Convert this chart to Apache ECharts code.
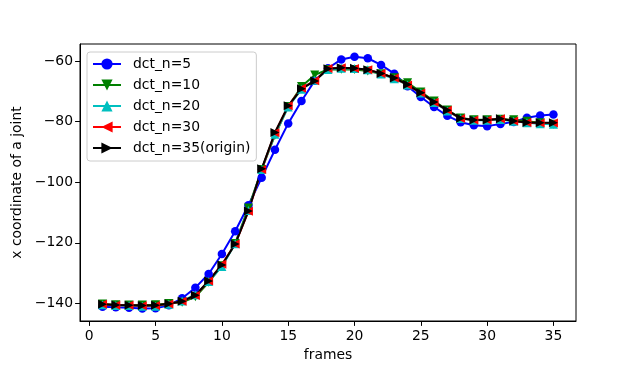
<!DOCTYPE html>
<html>
<head>
<meta charset="utf-8">
<script src="https://cdn.jsdelivr.net/npm/echarts@6/dist/echarts.min.js"></script>
<style>html,body{margin:0;padding:0;background:#fff;}#c{width:640px;height:367px;}</style>
</head>
<body>
<div id="c"></div>
<script>
const frames = [1,2,3,4,5,6,7,8,9,10,11,12,13,14,15,16,17,18,19,20,21,22,23,24,25,26,27,28,29,30,31,32,33,34,35];
const dct5  = [-141.1,-141.3,-141.4,-141.7,-141.6,-140.6,-138.3,-134.8,-130.3,-123.7,-116.2,-107.6,-98.5,-89.3,-80.6,-73.2,-66.5,-62.4,-59.5,-58.6,-59.1,-61.3,-64.2,-68.3,-71.9,-75.2,-78.1,-80.2,-81.2,-81.5,-80.8,-80.1,-78.7,-78.0,-77.7];
const dct10 = [-140.2,-140.4,-140.5,-140.5,-140.4,-140.0,-139.6,-137.8,-133.0,-127.6,-120.2,-108.5,-95.8,-84.5,-75.0,-68.4,-64.6,-62.8,-62.7,-62.8,-63.3,-64.2,-65.5,-67.2,-70.2,-73.2,-76.2,-78.8,-79.4,-79.4,-79.2,-79.4,-79.9,-80.4,-80.9];
const dct20 = [-140.4,-140.7,-140.7,-140.9,-140.9,-140.3,-139.2,-137.1,-132.8,-127.8,-120.3,-109.3,-95.8,-84.2,-75.2,-69.3,-66.4,-62.8,-62.4,-62.5,-62.9,-64.3,-65.9,-67.9,-70.6,-73.7,-76.5,-79.0,-79.6,-79.6,-79.3,-79.9,-80.4,-80.7,-80.9];
const dct30 = [-140.3,-140.6,-140.6,-140.8,-140.7,-140.2,-139.3,-137.4,-132.6,-127.1,-120.4,-109.6,-95.8,-83.7,-74.8,-69.0,-66.5,-62.5,-62.2,-62.5,-62.9,-64.1,-65.6,-67.9,-70.6,-73.6,-76.3,-79.0,-79.5,-79.5,-79.1,-79.8,-80.3,-80.5,-80.5];
const dct35 = [-140.3,-140.5,-140.6,-140.7,-140.6,-140.1,-139.3,-137.3,-132.6,-127.3,-120.4,-109.5,-95.6,-83.6,-74.8,-69.2,-66.6,-62.6,-62.2,-62.4,-62.9,-64.1,-65.6,-67.8,-70.5,-73.5,-76.3,-78.9,-79.5,-79.5,-79.1,-79.8,-80.3,-80.4,-80.4];
const xTicks = [0,5,10,15,20,25,30,35];
const yTicks = [-140,-120,-100,-80,-60];
const seriesNames = ['dct_n=5','dct_n=10','dct_n=20','dct_n=30','dct_n=35(origin)'];

const FONT = 'DejaVu Sans';
const pairs = v => frames.map((f,i)=>[f, v[i]]);
const defs = [
  {name: seriesNames[0], data: dct5,  color:'#0000ff', symbol:'circle',   rot:0,   size:8.5},
  {name: seriesNames[1], data: dct10, color:'#008000', symbol:'triangle', rot:180, size:9},
  {name: seriesNames[2], data: dct20, color:'#00bfbf', symbol:'triangle', rot:0,   size:9},
  {name: seriesNames[3], data: dct30, color:'#ff0000', symbol:'triangle', rot:90,  size:9},
  {name: seriesNames[4], data: dct35, color:'#000000', symbol:'triangle', rot:-90, size:9}
];
const chart = echarts.init(document.getElementById('c'), null, {renderer:'canvas'});
chart.setOption({
  animation:false,
  backgroundColor:'#fff',
  grid:{left:80, right:64, top:44, bottom:41, show:true, borderColor:'#000', borderWidth:1, backgroundColor:'transparent'},
  legend:{
    orient:'vertical', left:87, top:52,
    padding:[5,6,6,5], itemWidth:28, itemHeight:14, itemGap:7,
    backgroundColor:'rgba(255,255,255,0.8)', borderColor:'#cccccc', borderWidth:1, borderRadius:3,
    textStyle:{fontFamily:FONT, fontSize:13.9, color:'#000', padding:[0,0,0,7]},
    data: seriesNames
  },
  xAxis:{
    type:'value', min:-0.7, max:36.7,
    name:'frames', nameLocation:'middle', nameGap:27,
    nameTextStyle:{fontFamily:FONT, fontSize:13.9, color:'#000'},
    axisLine:{show:true, onZero:false, lineStyle:{color:'#000', width:1}},
    axisTick:{show:true, inside:false, length:4.9, lineStyle:{color:'#000', width:1}, customValues:xTicks},
    axisLabel:{fontFamily:FONT, fontSize:13.9, color:'#000', margin:8, customValues:xTicks, formatter:v=>String(v).replace('-','\u2212')},
    splitLine:{show:false}
  },
  yAxis:{
    type:'value', min:-145.8, max:-54.4,
    name:'x coordinate of a joint', nameLocation:'middle', nameGap:50, nameRotate:90,
    nameTextStyle:{fontFamily:FONT, fontSize:13.9, color:'#000'},
    axisLine:{show:true, onZero:false, lineStyle:{color:'#000', width:1}},
    axisTick:{show:true, inside:false, length:4.9, lineStyle:{color:'#000', width:1}, customValues:yTicks},
    axisLabel:{fontFamily:FONT, fontSize:13.9, color:'#000', margin:7, customValues:yTicks, formatter:v=>String(v).replace('-','\u2212')},
    splitLine:{show:false}
  },
  series: defs.map(d=>({
    name:d.name, type:'line', data:pairs(d.data),
    symbol:d.symbol, symbolSize:d.size, symbolRotate:d.rot, showSymbol:true,
    lineStyle:{color:d.color, width:2}, itemStyle:{color:d.color, borderWidth:0},
    emphasis:{disabled:true}
  }))
});
</script>
</body>
</html>
